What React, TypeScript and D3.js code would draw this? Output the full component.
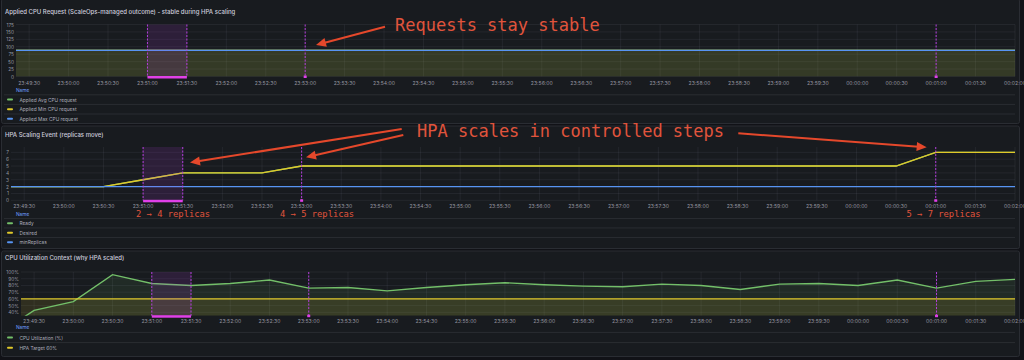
import React from "react";
import * as d3 from "d3";

// time range shown by the dashboard
const RANGE_START = "23:49:20";
const RANGE_END = "00:02:00";

const times = [
  "23:49:20", "23:49:30", "23:50:00", "23:50:30", "23:51:00", "23:51:30", "23:52:00",
  "23:52:30", "23:53:00", "23:53:30", "23:54:00", "23:54:30", "23:55:00", "23:55:30",
  "23:56:00", "23:56:30", "23:57:00", "23:57:30", "23:58:00", "23:58:30", "23:59:00",
  "23:59:30", "00:00:00", "00:00:30", "00:01:00", "00:01:30", "00:02:00",
];

// panel 1 - applied cpu request (m)
const appliedAvg = times.map(() => 88);
const appliedMin = times.map(() => 88);
const appliedMax = times.map(() => 88);

// panel 2 - replicas
const ready = [2, 2, 2, 2, 3, 4, 4, 4, 5, 5, 5, 5, 5, 5, 5, 5, 5, 5, 5, 5, 5, 5, 5, 5, 7, 7, 7];
const desired = [2, 2, 2, 2, 3, 4, 4, 4, 5, 5, 5, 5, 5, 5, 5, 5, 5, 5, 5, 5, 5, 5, 5, 5, 7, 7, 7];
const minReplicas = times.map(() => 2);

// panel 3 - cpu utilisation %
const cpuUtil = [30, 43, 56, 96, 83, 80, 83, 88, 76, 77, 72, 77, 81, 84, 81, 79, 78, 82, 80, 74, 82, 83, 80, 88, 76, 86, 89];
const hpaTarget = times.map(() => 60);

const yTicksRequest = [0, 25, 50, 75, 100, 125, 150, 175];
const yTicksReplicas = [0, 1, 2, 3, 4, 5, 6, 7];
const yTicksCpu = [40, 50, 60, 70, 80, 90, 100];

// annotations
const regionAnnotation = ["23:51:00", "23:51:30"];
const pointAnnotations = ["23:53:00", "00:01:00"];

const GREEN = "#73bf69";
const YELLOW = "#e0c92a";
const BLUE = "#5794f2";
const RED = "#e5482b";
const FONT = "Inter, 'Noto Sans', sans-serif";
const RIGHT = 1015;

function toDate(s: string) {
  const [h, m, sec] = s.split(":").map(Number);
  return new Date(2024, 0, h < 12 ? 2 : 1, h, m, sec || 0);
}

type Series = { name: string; color: string; values: number[]; fill?: number };

type PanelProps = {
  id: string;
  boxTop: number;
  boxBottom: number;
  title: string;
  titleY: number;
  plotTop: number;
  plotBottom: number;
  plotLeft: number;
  yDomain: [number, number];
  yTicks: number[];
  yFmt: (v: number) => string;
  series: Series[];
  tickY: number;
  nameY: number;
  rowGap: number;
};

function Panel(p: PanelProps) {
  const x = d3.scaleTime().domain([toDate(RANGE_START), toDate(RANGE_END)]).range([p.plotLeft, RIGHT]);
  const y = d3.scaleLinear().domain(p.yDomain).range([p.plotBottom, p.plotTop]);
  const xTicks = x.ticks(d3.timeSecond.every(30) as any);
  const fmt = d3.timeFormat("%H:%M:%S");
  const pts = (vals: number[]) => times.map((t, i) => [toDate(t), vals[i]] as [Date, number]);
  const line = d3.line<[Date, number]>().x((d) => x(d[0])).y((d) => y(d[1]));
  const area = d3.area<[Date, number]>().x((d) => x(d[0])).y0(p.plotBottom).y1((d) => y(d[1]));
  const clip = `clip-${p.id}`;
  const rx0 = x(toDate(regionAnnotation[0]));
  const rx1 = x(toDate(regionAnnotation[1]));
  const legendRows = p.series.map((s, i) => p.nameY + (i + 1) * p.rowGap);

  return (
    <g>
      <rect x={1.5} y={p.boxTop} width={1018} height={p.boxBottom - p.boxTop} fill="#181b1f" stroke="#2a2d33" rx={2} />
      <text x={5} y={p.titleY} fontSize={6} fill="#ccccdc" fontWeight={500} dominantBaseline="central" fontFamily={FONT}>
        {p.title}
      </text>
      <defs>
        <clipPath id={clip}>
          <rect x={p.plotLeft} y={p.plotTop} width={RIGHT - p.plotLeft} height={p.plotBottom - p.plotTop} />
        </clipPath>
      </defs>
      {/* grid */}
      {p.yTicks.map((v) => (
        <g key={"y" + v}>
          <line x1={p.plotLeft} x2={RIGHT} y1={y(v)} y2={y(v)} stroke="#ccccdc" strokeOpacity={0.07} />
          <text x={p.plotLeft - 2} y={y(v)} fontSize={4.8} fill="#ccccdc" fillOpacity={0.7} textAnchor="end" dominantBaseline="central" fontFamily={FONT}>
            {p.yFmt(v)}
          </text>
        </g>
      ))}
      {xTicks.map((t, i) => (
        <g key={"x" + i}>
          <line x1={x(t)} x2={x(t)} y1={p.plotTop} y2={p.plotBottom} stroke="#ccccdc" strokeOpacity={0.07} />
          <text x={x(t)} y={p.tickY} fontSize={5.1} fill="#ccccdc" fillOpacity={0.7} textAnchor="middle" dominantBaseline="central" fontFamily={FONT}>
            {fmt(t)}
          </text>
        </g>
      ))}
      {/* series */}
      <g clipPath={`url(#${clip})`}>
        {p.series.map((s) =>
          s.fill ? <path key={"a" + s.name} d={area(pts(s.values)) || ""} fill={s.color} fillOpacity={s.fill} /> : null
        )}
        {p.series.map((s) => (
          <path key={"l" + s.name} d={line(pts(s.values)) || ""} fill="none" stroke={s.color} strokeWidth={1.4} />
        ))}
      </g>
      {/* annotations */}
      <rect x={rx0} y={p.plotTop} width={rx1 - rx0} height={p.plotBottom - p.plotTop} fill="#b43cdc" fillOpacity={0.14} />
      {[rx0, rx1].map((xx, i) => (
        <line key={"r" + i} x1={xx} x2={xx} y1={p.plotTop} y2={p.plotBottom} stroke="#b43cdc" strokeDasharray="2,1.5" strokeWidth={1} />
      ))}
      <rect x={rx0} y={p.plotBottom - 0.5} width={rx1 - rx0} height={2.5} fill="#e040e8" />
      {pointAnnotations.map((a) => {
        const xx = x(toDate(a));
        return (
          <g key={a}>
            <line x1={xx} x2={xx} y1={p.plotTop} y2={p.plotBottom} stroke="#b43cdc" strokeDasharray="2,1.5" strokeWidth={1} />
            <rect x={xx - 1.5} y={p.plotBottom - 1} width={3} height={2.5} fill="#e040e8" />
          </g>
        );
      })}
      {/* legend */}
      <text x={16} y={p.nameY} fontSize={4.8} fill="#6e9fff" dominantBaseline="central" fontFamily={FONT}>
        Name
      </text>
      {p.series.map((s, i) => (
        <g key={"lg" + s.name}>
          <line x1={4} x2={RIGHT} y1={legendRows[i] - p.rowGap / 2} y2={legendRows[i] - p.rowGap / 2} stroke="#ccccdc" strokeOpacity={0.1} />
          <rect x={7} y={legendRows[i] - 1} width={6} height={2} rx={1} fill={s.color} />
          <text x={19.5} y={legendRows[i]} fontSize={4.8} fill="#ccccdc" fillOpacity={0.85} dominantBaseline="central" fontFamily={FONT}>
            {s.name}
          </text>
        </g>
      ))}
    </g>
  );
}

const callouts = [
  { text: "Requests stay stable", x: 395, y: 30.5, size: 17 },
  { text: "HPA scales in controlled steps", x: 417, y: 137, size: 17 },
  { text: "2 → 4 replicas", x: 136, y: 217, size: 8.8 },
  { text: "4 → 5 replicas", x: 280, y: 217, size: 8.8 },
  { text: "5 → 7 replicas", x: 906.5, y: 217, size: 8.8 },
];

const arrows = [
  { from: [385, 26.7], to: [316, 45] },
  { from: [401.7, 129], to: [190, 162.5] },
  { from: [403.3, 135], to: [306, 157.3] },
  { from: [738.3, 133.3], to: [926.7, 147.3] },
];

function Arrow({ from, to }: { from: number[]; to: number[] }) {
  const dx = to[0] - from[0];
  const dy = to[1] - from[1];
  const len = Math.hypot(dx, dy);
  const ux = dx / len, uy = dy / len;
  const hl = 10, hw = 4.5;
  const bx = to[0] - ux * hl, by = to[1] - uy * hl;
  const pts = [
    [to[0], to[1]],
    [bx - uy * hw, by + ux * hw],
    [bx + uy * hw, by - ux * hw],
  ];
  return (
    <g>
      <line x1={from[0]} y1={from[1]} x2={bx + ux * 2} y2={by + uy * 2} stroke={RED} strokeWidth={2} />
      <polygon points={pts.map((q) => q.join(",")).join(" ")} fill={RED} />
    </g>
  );
}

export default function App() {
  return (
    <div style={{ position: "fixed", left: 0, top: 0, width: 1024, height: 360, background: "#111217" }}>
      <svg width={1024} height={360} style={{ display: "block" }}>
        <rect width={1024} height={360} fill="#111217" />
        <Panel
          id="req"
          boxTop={-1}
          boxBottom={123.5}
          title="Applied CPU Request (ScaleOps-managed outcome) - stable during HPA scaling"
          titleY={11}
          plotTop={24.5}
          plotBottom={76.5}
          plotLeft={16}
          yDomain={[0, 175]}
          yTicks={yTicksRequest}
          yFmt={(v) => String(v)}
          series={[
            { name: "Applied Avg CPU request", color: GREEN, values: appliedAvg, fill: 0.1 },
            { name: "Applied Min CPU request", color: YELLOW, values: appliedMin, fill: 0.1 },
            { name: "Applied Max CPU request", color: BLUE, values: appliedMax },
          ]}
          tickY={83}
          nameY={90}
          rowGap={9.6}
        />
        <Panel
          id="hpa"
          boxTop={126}
          boxBottom={248.5}
          title="HPA Scaling Event (replicas move)"
          titleY={134.7}
          plotTop={147}
          plotBottom={200.3}
          plotLeft={11}
          yDomain={[0, 7.78]}
          yTicks={yTicksReplicas}
          yFmt={(v) => String(v)}
          series={[
            { name: "Ready", color: GREEN, values: ready },
            { name: "Desired", color: YELLOW, values: desired },
            { name: "minReplicas", color: BLUE, values: minReplicas },
          ]}
          tickY={206}
          nameY={213.7}
          rowGap={9.5}
        />
        <Panel
          id="cpu"
          boxTop={251}
          boxBottom={356.5}
          title="CPU Utilization Context (why HPA scaled)"
          titleY={257.3}
          plotTop={272}
          plotBottom={315.7}
          plotLeft={21}
          yDomain={[35, 100]}
          yTicks={yTicksCpu}
          yFmt={(v) => v + "%"}
          series={[
            { name: "CPU Utilization (%)", color: GREEN, values: cpuUtil, fill: 0.1 },
            { name: "HPA Target 60%", color: YELLOW, values: hpaTarget, fill: 0.12 },
          ]}
          tickY={320.7}
          nameY={327.3}
          rowGap={10.2}
        />
        {arrows.map((a, i) => (
          <Arrow key={i} from={a.from} to={a.to} />
        ))}
        {callouts.map((c) => (
          <text key={c.text} x={c.x} y={c.y} fontSize={c.size} fill="#e0543c" fontFamily="'DejaVu Sans Mono', monospace">
            {c.text}
          </text>
        ))}
      </svg>
    </div>
  );
}
